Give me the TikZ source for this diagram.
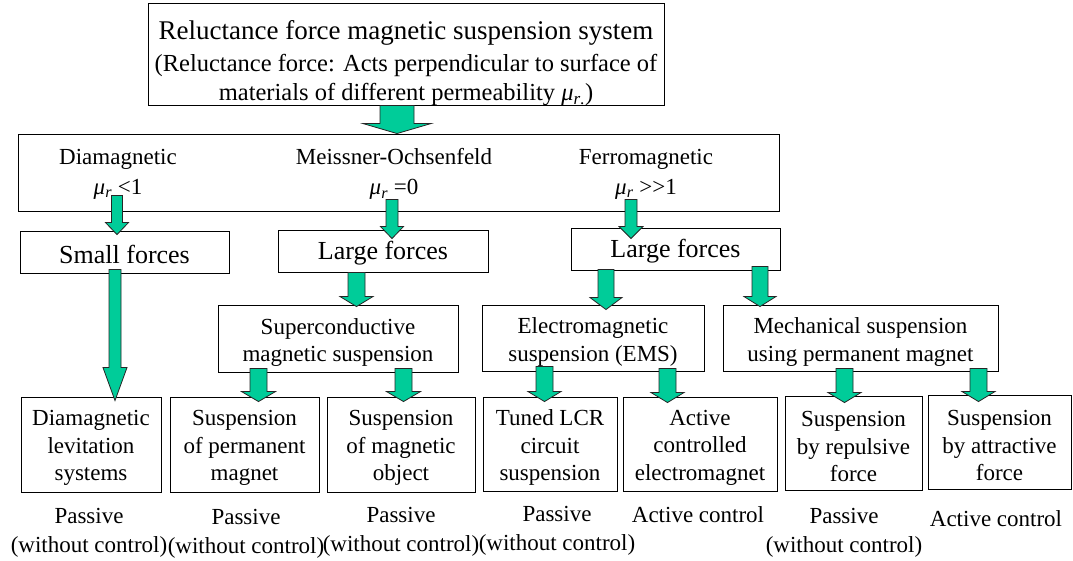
\documentclass[tikz,border=0pt]{standalone}
\usepackage{fontspec}
\setmainfont{Liberation Serif}
\usetikzlibrary{calc}
\definecolor{arrowgreen}{RGB}{0,204,153}
\tikzset{
  frame/.style={draw=black, line width=0.9pt, fill=white, inner sep=0pt, align=center},
  boxtext/.style={align=center, inner sep=0pt, font=\fontsize{23}{27.5}\selectfont, yshift=-3.8pt},
  forcetext/.style={align=center, inner sep=0pt, font=\fontsize{26}{30}\selectfont, yshift=-2pt},
  lbl/.style={align=center, inner sep=0pt, font=\fontsize{23}{29}\selectfont},
  lblw/.style={align=center, inner sep=0pt, font=\fontsize{23}{30}\selectfont},
  barrow/.style={draw=black!85, line width=0.8pt, fill=arrowgreen, line join=miter},
}
% box with centred text: name, position, width, height, text
\newcommand\tbox[5]{%
  \node[frame, minimum width=#3pt, minimum height=#4pt,
        label={[boxtext]center:{#5}}] (#1) at (#2) {};}
\newcommand\forcebox[5]{%
  \node[frame, minimum width=#3pt, minimum height=#4pt,
        label={[forcetext]center:{#5}}] (#1) at (#2) {};}
% #1 source, #2 target, #3 x, #4 start inside source, #5 tip inside target,
% #6 body half width, #7 head half width, #8 head length
\newcommand\flow[8]{%
  \path[barrow] let \p1=(#1.south), \p2=(#2.north) in
    (#3pt-#6pt,\y1+#4pt) -- (#3pt+#6pt,\y1+#4pt) -- (#3pt+#6pt,\y2-#5pt+#8pt)
    -- (#3pt+#7pt,\y2-#5pt+#8pt) -- (#3pt,\y2-#5pt) -- (#3pt-#7pt,\y2-#5pt+#8pt)
    -- (#3pt-#6pt,\y2-#5pt+#8pt) -- cycle;}
\newcommand\mur{\textit{μ}\textsubscript{\textit{r}}}
\begin{document}
\begin{tikzpicture}[x=1pt,y=-1pt]
\useasboundingbox (0,0) rectangle (1073,561);
\fill[white] (0,0) rectangle (1073,561);

% boxes
\node[frame, minimum width=516pt, minimum height=102pt] (top) at (406,54) {};
\node[lbl] (ttop) at (406,63)
  {{\fontsize{27}{32}\selectfont Reluctance force magnetic suspension system}\\[3pt]
   {\fontsize{24.5}{28}\selectfont (Reluctance force: Acts perpendicular to surface of}\\
   {\fontsize{24.5}{28}\selectfont materials of different permeability \textit{μ}\textsubscript{\textit{r}.})}};
\node[frame, minimum width=761pt, minimum height=77pt] (wide) at (398.5,172.5) {};
\node[lblw] (tdia) at (118,174) {Diamagnetic\\ \mur\ <1};
\node[lblw] (tmei) at (394,174) {Meissner-Ochsenfeld\\ \mur\ =0};
\node[lblw] (tfer) at (646,174) {Ferromagnetic\\ \mur\ >\kern0pt>1};

\forcebox{small}{124.5,252}{209}{42}{Small forces}
\forcebox{large1}{383,251}{210}{42}{Large forces}
\forcebox{large2}{675.5,249}{209}{42}{Large forces}

\tbox{super}{338,338.5}{240}{67}{Superconductive\\ magnetic suspension}
\tbox{ems}{593,338}{222}{66}{Electromagnetic\\ suspension (EMS)}
\tbox{mech}{860.5,338}{275}{66}{Mechanical suspension\\ using permanent magnet}

\tbox{dlev}{91,444.5}{140}{95}{Diamagnetic\\ levitation\\ systems}
\tbox{spm}{244.5,444.5}{149}{95}{Suspension\\ of permanent\\ magnet}
\tbox{smo}{401,444.5}{148}{95}{Suspension\\ of magnetic\\ object}
\tbox{tuned}{550,444}{134}{94}{Tuned LCR\\ circuit\\ suspension}
\tbox{active}{700,444}{154}{94}{Active\\ controlled\\ electromagnet}
\tbox{rep}{853.5,443}{137}{94}{Suspension\\ by repulsive\\ force}
\tbox{att}{999.5,442}{143}{94}{Suspension\\ by attractive\\ force}

% labels
\node[lbl] (l1) at (89,533) {Passive\\ (without control)};
\node[lbl] (l2) at (246,534) {Passive\\ (without control)};
\node[lbl] (l3) at (401,532) {Passive\\ (without control)};
\node[lbl] (l4) at (557,531) {Passive\\ (without control)};
\node[lbl] (l5) at (698,515) {Active control};
\node[lbl] (l6) at (844,533) {Passive\\ (without control)};
\node[lbl] (l7) at (996,519) {Active control};

% block arrows
\flow{top}{wide}{397}{0}{0}{17}{34}{10}
\flow{wide}{small}{117}{16}{4}{5.5}{11.5}{12}
\flow{wide}{large1}{392}{12}{9}{6}{11.5}{12}
\flow{wide}{large2}{631}{12}{11}{6}{12}{12}
\flow{small}{dlev}{115}{4}{4}{6}{12}{33}
\flow{large1}{super}{356.5}{0}{2}{8.5}{16.5}{10}
\flow{large2}{ems}{606}{1}{5}{8}{16}{12}
\flow{large2}{mech}{760}{4}{2}{8}{16}{10}
\flow{super}{spm}{258.5}{4}{5}{8.5}{17}{10}
\flow{super}{smo}{403.5}{4}{5}{8.5}{17}{10}
\flow{ems}{tuned}{544.5}{5}{5}{8.5}{16.5}{10}
\flow{ems}{active}{667.5}{3}{6}{8.5}{16.5}{10}
\flow{mech}{rep}{844.5}{3}{7}{8.5}{16.5}{10}
\flow{mech}{att}{978.5}{3}{7}{8.5}{16.5}{10}
\end{tikzpicture}
\end{document}
